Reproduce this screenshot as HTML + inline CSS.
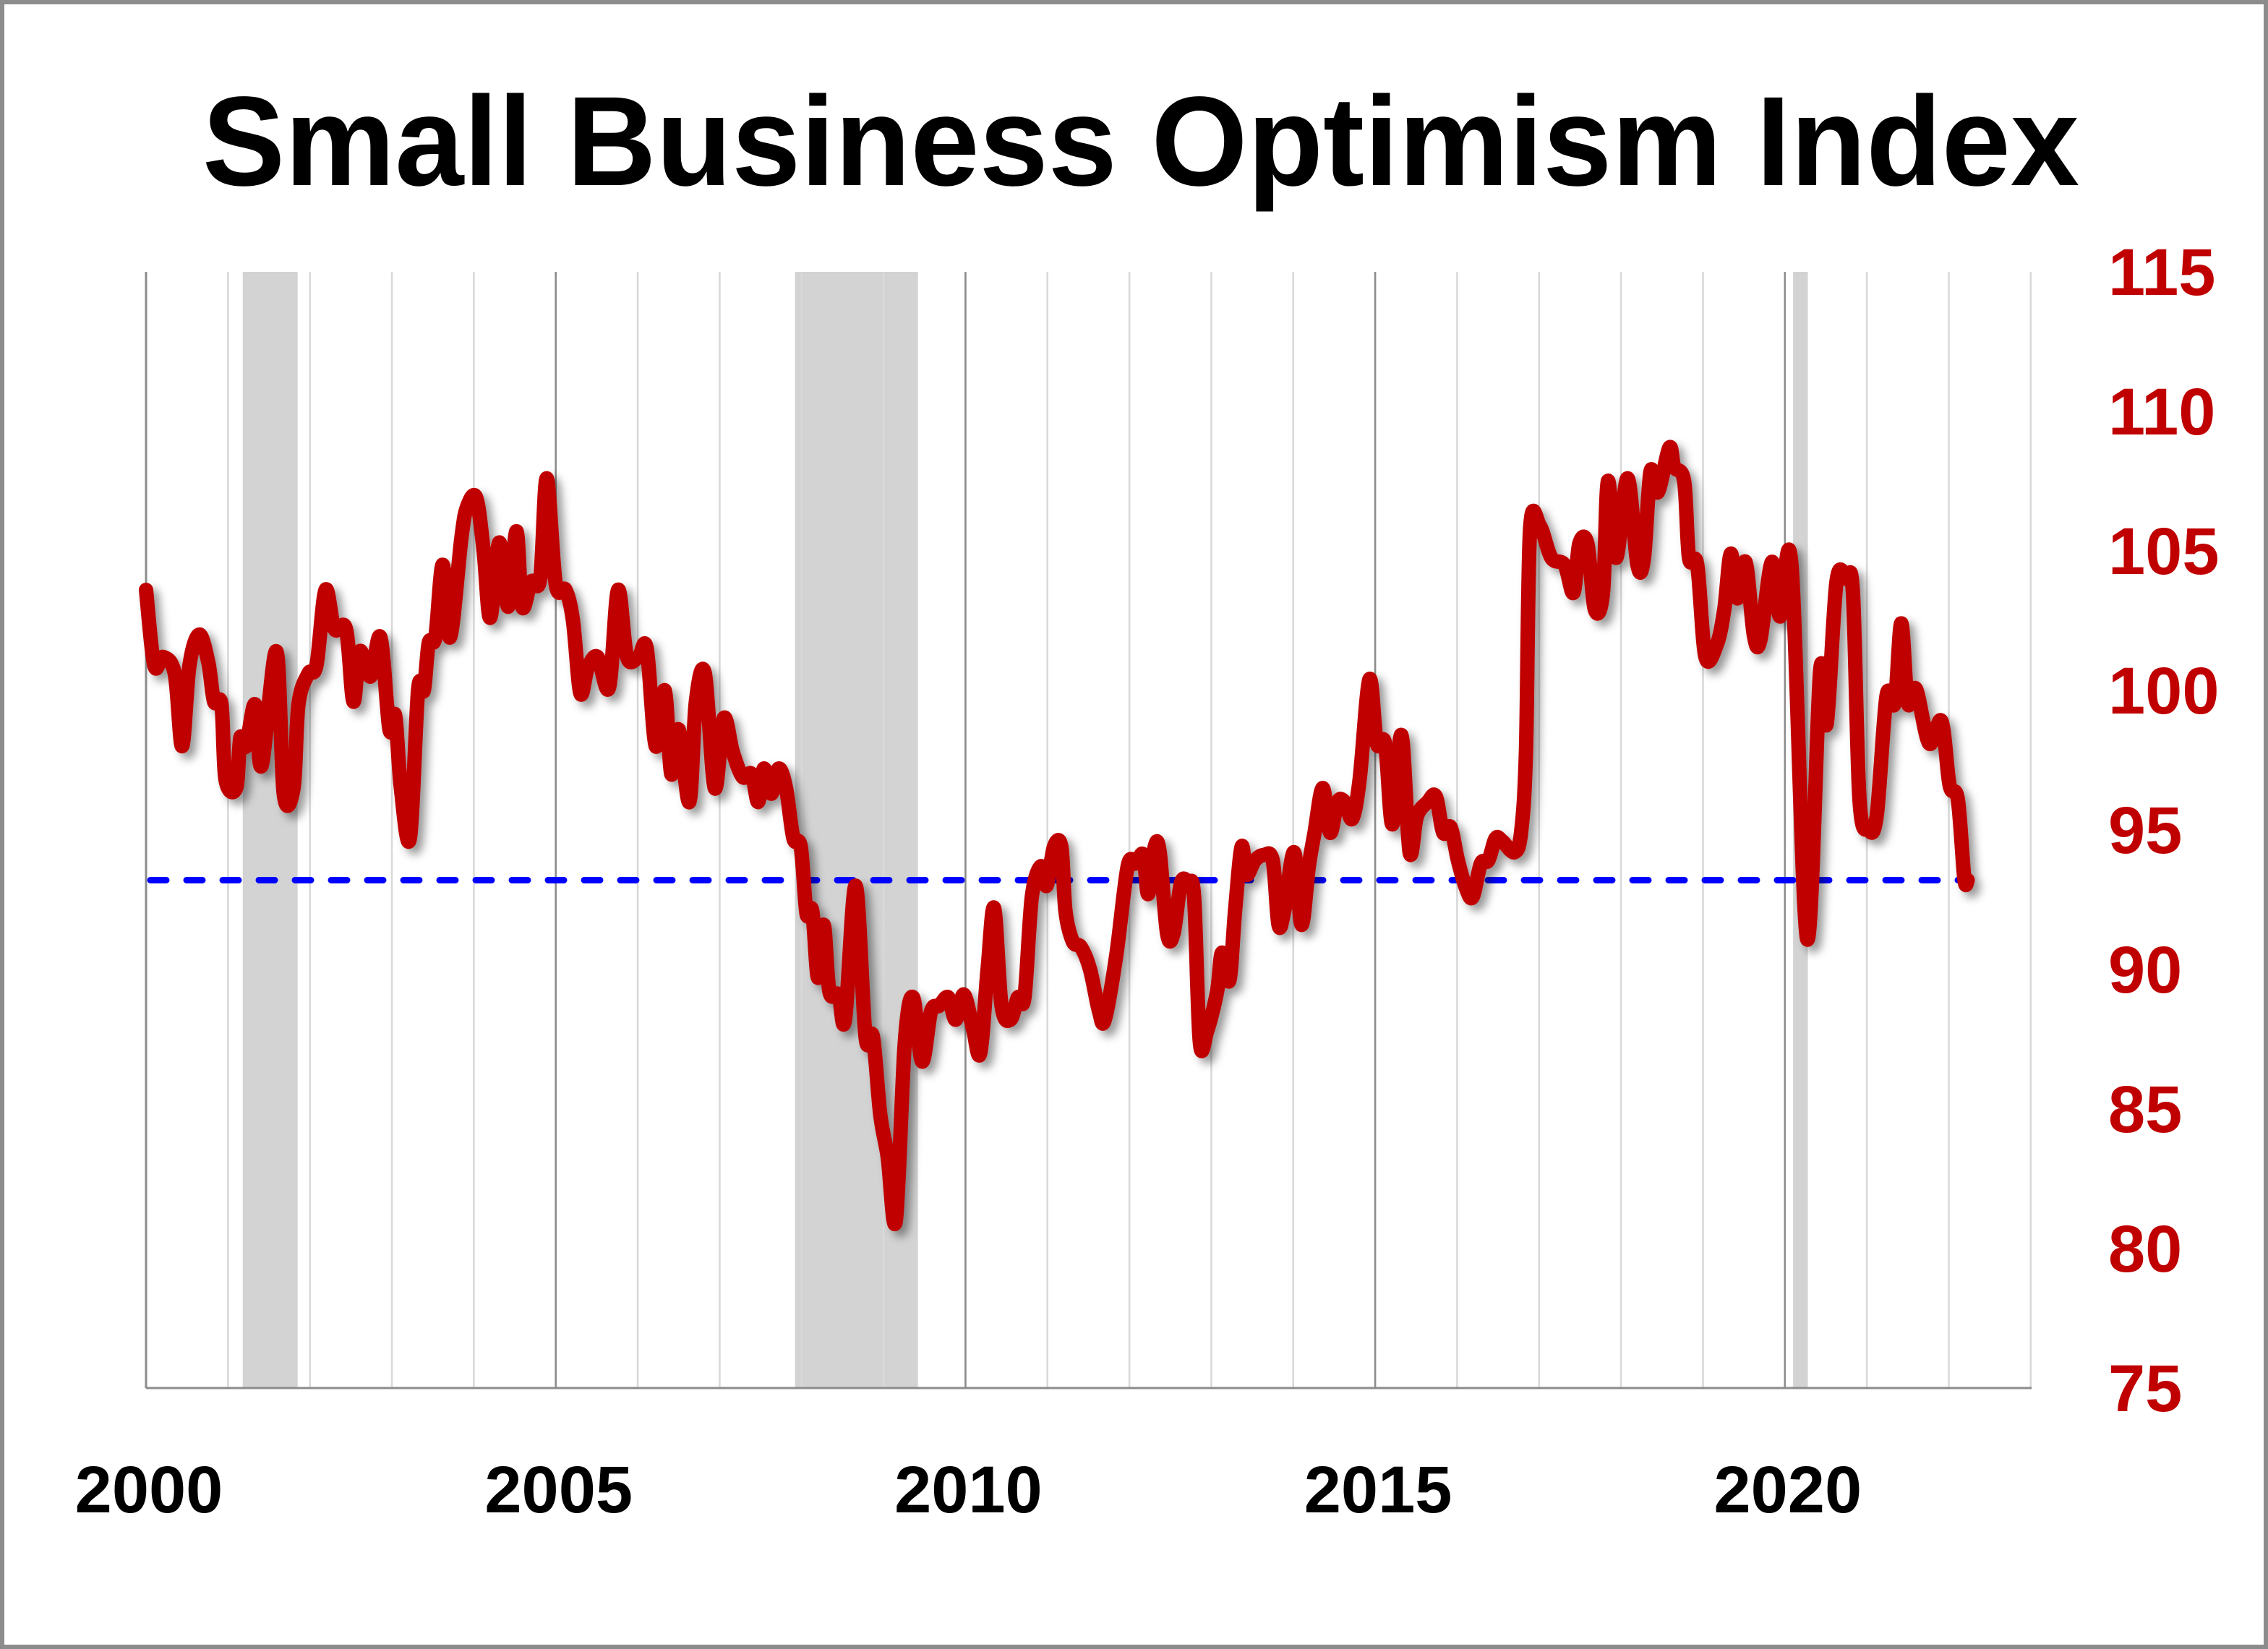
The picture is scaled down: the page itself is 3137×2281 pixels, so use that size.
<!DOCTYPE html>
<html>
<head>
<meta charset="utf-8">
<style>
  html,body{margin:0;padding:0;background:#fff;}
  svg{display:block;}
</style>
</head>
<body>
<svg id="chart" width="3137" height="2281" viewBox="0 0 1568.5 1140.5" xmlns="http://www.w3.org/2000/svg">
  <defs>
    <filter id="shadow" x="-5%" y="-5%" width="110%" height="110%">
      <feDropShadow dx="4" dy="4" stdDeviation="3" flood-color="#000" flood-opacity="0.4"/>
    </filter>
  </defs>
  <rect x="1.5" y="1.5" width="1565.5" height="1137.5" fill="#fff" stroke="#8c8c8c" stroke-width="3"/>
  <text x="789" y="128" text-anchor="middle" font-family="'Liberation Sans', sans-serif" font-weight="bold" font-size="88" textLength="1298" lengthAdjust="spacingAndGlyphs" fill="#000">Small Business Optimism Index</text>
  <g id="recessions"></g>
  <g id="grid"></g>
  <g id="axes"></g>
  <g id="series"></g>
  <g id="labels"></g>
</svg>
<script>
// ---- data ----
const yearOffsets = [0,0.1,0.21,0.35,0.44,0.53,0.65,0.76,0.83,0.92,0.97,1.10,1.15,1.22,1.33,1.41,1.59,1.68,1.80,1.86,1.98,2.08,2.19,2.30,2.44,2.53,2.61,2.74,2.86,2.97,3.04,3.11,3.22,3.32,3.39,3.45,3.53,3.62,3.71,3.85,3.92,4.03,4.12,4.20,4.31,4.42,4.52,4.59,4.70,4.81,4.89,5.00,5.12,5.21,5.30,5.39,5.51,5.65,5.76,5.87,6.01,6.11,6.22,6.33,6.41,6.50,6.63,6.71,6.82,6.94,7.05,7.16,7.28,7.39,7.47,7.54,7.63,7.72,7.81,7.90,7.99,8.06,8.13,8.20,8.27,8.34,8.45,8.53,8.66,8.78,8.87,8.96,9.05,9.15,9.26,9.36,9.47,9.58,9.68,9.79,9.88,9.98,10.09,10.18,10.27,10.35,10.44,10.55,10.64,10.72,10.81,10.92,10.99,11.08,11.17,11.22,11.31,11.41,11.52,11.63,11.70,11.84,11.98,12.08,12.17,12.23,12.31,12.37,12.46,12.54,12.63,12.72,12.79,12.86,12.95,13.07,13.13,13.22,13.29,13.37,13.43,13.53,13.64,13.75,13.82,13.89,14.01,14.10,14.19,14.26,14.36,14.45,14.54,14.63,14.72,14.81,14.93,15.02,15.12,15.21,15.32,15.42,15.51,15.64,15.74,15.83,15.92,16.01,16.11,16.19,16.29,16.38,16.47,16.55,16.70,16.78,16.84,16.89,17.01,17.15,17.31,17.42,17.49,17.59,17.68,17.78,17.84,17.94,18.08,18.20,18.28,18.36,18.45,18.59,18.65,18.77,18.83,18.93,19.03,19.17,19.26,19.34,19.42,19.52,19.62,19.70,19.84,19.94,20.08,20.27,20.43,20.51,20.63,20.75,20.83,20.91,21.02,21.12,21.24,21.34,21.42,21.50,21.60,21.76,21.91,22.01,22.11,22.19,22.23];
const indexValues = [103.6,100.9,101.2,100.6,98,100.9,102,101,99.6,99.5,96.8,96.5,98.3,98,99.5,97.3,101.4,96.3,96.5,99.5,100.6,100.9,103.6,102.2,102.2,99.6,101.4,100.5,101.9,98.6,99.1,96.5,94.7,100,100,101.7,101.9,104.5,101.9,105.5,106.6,106.9,105,102.6,105.3,103,105.7,103,103.9,104,107.6,103.8,103.6,102.5,99.9,100.8,101.2,100.1,103.6,101.2,101.2,101.5,98,100,97,98.6,96,99.6,100.6,96.5,99,97.8,96.9,97,96,97.2,96.3,97.2,96.5,94.7,94.4,92,92.1,89.7,91.6,89.2,89.1,88.2,93,87.6,87.6,84.8,83.3,81,87.4,89,86.7,88.5,88.7,89,88.2,89.1,87.9,87,90,92.2,88.7,88.2,89,89,92.6,93.7,93,94.4,94.4,92.1,91,90.8,90,88.5,88.2,90.5,93.7,93.8,94.1,92.7,94.4,94.2,91.3,91.3,93.1,93.1,92.6,87.4,87.8,89.2,90.6,89.6,92.1,94.4,93.4,93.9,94.1,93.9,91.6,92.1,94.2,91.6,93.7,94.9,96.5,94.9,96,96,95.4,96.8,100.4,98.1,98.1,95.2,98.4,94.2,95.5,96,96.2,94.9,95.1,93.9,92.9,92.6,93.8,93.9,94.7,94.6,94.2,94.9,97.8,105.75,105.9,104.75,104.5,103.5,105.25,105.25,102.9,103.5,107.5,104.75,107.6,104.5,104.75,107.85,107.1,108.7,108,107.5,104.75,104.5,101.2,101.65,102.9,104.9,103.3,104.6,102.0,101.8,104.6,102.65,104.5,91.1,100.7,98.8,103.9,104.0,103.5,96.1,95.0,95.5,99.8,99.55,102.4,99.55,100.05,98.1,98.9,96.6,96.1,93.25,93.2];
const benchmarkValue = [93.2];
const recessionStarts = [1.18, 7.92, 20.1];
const recessionEnds = [1.85, 9.42, 20.28];
const yTicks = [75,80,85,90,95,100,105,110,115];
const xTickYears = [0,5,10,15,20];
const xTickLabels = ['2000','2005','2010','2015','2020'];

// ---- scales ----
const X0 = 101, PX_PER_YEAR = 56.67, Y_TOP = 188, Y_BOT = 960, YMIN = 75, YMAX = 115, X_END = 1405;
function xs(t){ return X0 + t*PX_PER_YEAR; }
function ys(v){ return Y_BOT - (v - YMIN)/(YMAX - YMIN)*(Y_BOT - Y_TOP); }
const NS = 'http://www.w3.org/2000/svg';
function mk(tag, attrs, parent){
  const e = document.createElementNS(NS, tag);
  for (const k in attrs) e.setAttribute(k, attrs[k]);
  parent.appendChild(e);
  return e;
}

// recessions
const gR = document.getElementById('recessions');
recessionStarts.forEach((s,i)=>{
  const r = mk('rect',{x:xs(s),y:Y_TOP,width:xs(recessionEnds[i])-xs(s),height:Y_BOT-Y_TOP,fill:'#d3d3d3'},gR);
  
  
});

// grid
const gG = document.getElementById('grid');
for (let yr=1; yr<=23; yr++){
  const dark = yr % 5 === 0;
  const l = mk('line',{x1:xs(yr),x2:xs(yr),y1:Y_TOP,y2:Y_BOT,stroke:dark?'#8c8c8c':'#d9d9d9','stroke-width':1.3},gG);
  
  
}

// axes
const gA = document.getElementById('axes');
const ya = mk('line',{x1:X0,x2:X0,y1:Y_TOP,y2:Y_BOT,stroke:'#8c8c8c','stroke-width':1.5},gA);


const xa = mk('line',{x1:X0,x2:X_END,y1:Y_BOT,y2:Y_BOT,stroke:'#8c8c8c','stroke-width':1.5},gA);



// series
const gS = document.getElementById('series');
const bl = mk('line',{x1:xs(yearOffsets[0])+3,x2:xs(yearOffsets[yearOffsets.length-1]),y1:ys(benchmarkValue[0]),y2:ys(benchmarkValue[0]),stroke:'#0000ff','stroke-width':4.5,'stroke-dasharray':'11 14','stroke-linecap':'round'},gS);


const pts = yearOffsets.map((t,i)=>[xs(t), ys(indexValues[i])]);
let d = 'M' + pts[0][0].toFixed(2) + ' ' + pts[0][1].toFixed(2);
const k = 1/6;
for (let i=0;i<pts.length-1;i++){
  const p0 = pts[Math.max(0,i-1)], p1 = pts[i], p2 = pts[i+1], p3 = pts[Math.min(pts.length-1,i+2)];
  const c1x = p1[0] + (p2[0]-p0[0])*k, c1y = p1[1] + (p2[1]-p0[1])*k;
  const c2x = p2[0] - (p3[0]-p1[0])*k, c2y = p2[1] - (p3[1]-p1[1])*k;
  d += ' C' + c1x.toFixed(2)+' '+c1y.toFixed(2)+' '+c2x.toFixed(2)+' '+c2y.toFixed(2)+' '+p2[0].toFixed(2)+' '+p2[1].toFixed(2);
}
const p = mk('path',{d:d,fill:'none',stroke:'#c00000','stroke-width':10,'stroke-linejoin':'round','stroke-linecap':'round',filter:'url(#shadow)'},gS);



// labels
const gL = document.getElementById('labels');
yTicks.forEach(v=>{
  const t = mk('text',{x:1458,y:ys(v)+16,'font-family':"'Liberation Sans', sans-serif",'font-weight':'bold','font-size':46,fill:'#c00000'},gL);
  t.textContent = v;
  
  
});
xTickYears.forEach((yv,i)=>{
  const t = mk('text',{x:xs(yv)+2,y:1046,'text-anchor':'middle','font-family':"'Liberation Sans', sans-serif",'font-weight':'bold','font-size':46,fill:'#000'},gL);
  t.textContent = xTickLabels[i];
  
  
});
</script>
</body>
</html>
